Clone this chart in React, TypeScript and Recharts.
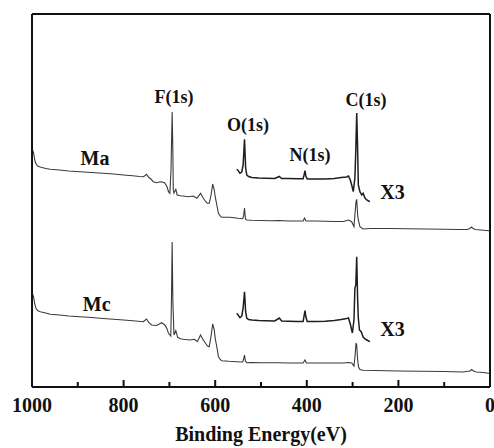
import React from 'react'
import {
  LineChart,
  Line,
  XAxis,
  YAxis,
  ReferenceDot,
} from 'recharts'

// [binding energy (eV), intensity (a.u.)]
const maSurvey: [number, number][] = [
  [1000, 239], [998, 236], [996.5, 234], [994, 227], [992, 224], [988, 221],
  [982, 220], [970, 218.5], [960, 217.7], [940, 217], [920, 216], [895, 215.3],
  [870, 214.5], [845, 213.7], [822, 213], [800, 212], [780, 211.2], [765, 210.5],
  [757, 210.3], [753, 211.5], [750, 212.7], [745, 209.5], [742, 208.7], [735, 205.3],
  [728, 204.3], [722, 205], [717, 205.3], [710, 204], [705, 200], [702, 195.3],
  [699, 193.7], [696.5, 217], [694, 275], [692.5, 237], [691.5, 197], [690, 194],
  [686, 197.7], [683, 192], [676, 191.3], [670, 191], [659, 190.3], [648, 191],
  [640, 188.7], [632, 193.7], [626, 188.7], [620, 185], [617, 183.7], [613, 183.7],
  [609, 192], [605.5, 203], [602, 197], [600, 190.3], [596, 181], [593, 173.7],
  [589, 171], [586, 169.7], [568, 169.7], [550, 168.7], [540, 168.3], [538, 171],
  [536, 179], [534, 168], [531, 167], [520, 166.7], [500, 166.5], [480, 166.3],
  [460, 166.5], [440, 166], [420, 166], [408, 166], [405, 169], [402, 166],
  [380, 166], [360, 165.7], [340, 165.5], [320, 165.5], [309, 167], [302, 165.3],
  [297, 160.3], [294.5, 175], [292.5, 185.3], [291, 187.7], [289, 172], [287.5, 167],
  [284, 160.3], [277, 158], [260, 158.5], [220, 158.5], [180, 158.2], [140, 158],
  [100, 157.7], [70, 157.5], [50, 157.5], [44, 158.5], [40, 160], [37, 158.5],
  [32, 157.5], [20, 157], [8, 156.5], [0, 156],
]

const maSurveyX3: [number, number][] = [
  [553, 217.7], [550, 216.5], [546, 213.7], [542, 215], [539, 222], [536, 247.7],
  [533.5, 219], [531, 212], [527, 210.5], [520, 209.5], [505, 209], [490, 208.7],
  [470, 208.5], [460, 210.5], [455, 208.5], [440, 208.5], [420, 208.2], [408, 208.2],
  [406, 212], [404, 216.3], [402, 211], [399, 208], [380, 208], [360, 208],
  [340, 208.5], [325, 209.5], [313, 210], [309, 211], [305, 207], [302, 202],
  [298.5, 195.3], [295, 209], [293, 237], [291, 274], [289, 237], [287.5, 202],
  [284, 195.3], [280, 192], [277, 193.7], [273, 189], [269, 187], [265, 186],
  [262, 185.3],
]

const mcSurvey: [number, number][] = [
  [1000, 95], [998, 92], [996.5, 90], [994, 83], [991.3, 78.7], [988, 76.5],
  [982, 75.3], [970, 74], [960, 72.7], [940, 72], [920, 71], [895, 70.3],
  [870, 69.5], [845, 68.5], [822, 67.7], [800, 67], [780, 66.3], [757, 65.3],
  [750, 68], [745, 64.5], [739, 62], [728, 61.5], [722, 63], [717, 64.3],
  [710, 62], [705, 58], [702, 53.7], [697, 51], [695.5, 87], [694, 145],
  [692.5, 87], [690, 52], [686, 56.3], [682, 49.7], [676, 48.3], [670, 47.7],
  [655, 47], [645, 47.7], [639, 45.3], [632, 52], [626, 47], [620, 43],
  [617, 41], [613, 40.3], [609, 51], [605.5, 63], [602, 57], [600, 48.7],
  [596, 39], [593, 30.3], [589, 27.5], [586, 26.3], [570, 25.7], [553, 25.3],
  [540, 25], [538, 28], [536, 32], [534, 26], [531, 24.3], [520, 24.5],
  [500, 24.3], [480, 24.2], [460, 24.3], [440, 24], [420, 24], [408, 24],
  [404, 27], [401, 24], [380, 24], [360, 24], [340, 24], [320, 24],
  [309, 24.5], [302, 24], [297, 21], [294.5, 32], [292.5, 44], [291, 42],
  [289, 27], [287, 20], [284, 17.5], [277, 16.7], [250, 16.5], [200, 16],
  [150, 15.8], [100, 15.5], [60, 15], [44, 16], [40, 17.5], [36, 16],
  [30, 15], [15, 14.5], [0, 13.5],
]

const mcSurveyX3: [number, number][] = [
  [553, 73.7], [550, 72], [546, 69.3], [542, 71], [539, 79], [536, 95.3],
  [533.5, 75], [531, 68.7], [527, 67.5], [520, 67], [505, 66.5], [490, 66.2],
  [470, 66], [460, 69], [455, 66], [440, 65.8], [420, 65.5], [408, 65.5],
  [406, 71], [404, 76.5], [402, 70], [399, 65.5], [380, 65.5], [360, 65.8],
  [340, 66.5], [325, 67.5], [313, 68.5], [309, 69], [305, 63], [302, 57],
  [300.5, 54], [297, 67], [295, 99], [293, 102], [291, 130.3], [289, 87],
  [287.5, 69], [285, 57], [281, 55], [277, 50], [273, 48], [269, 47],
  [265, 46], [262, 45.3],
]

const energyTicks = [0, 100, 200, 300, 400, 500, 600, 700, 800, 900, 1000]

// annotation text and its anchor [eV, intensity, font size]
const annotations: [string, number, number, number][] = [
  ['F(1s)', 690, 290, 18],
  ['O(1s)', 528.4, 262, 18],
  ['N(1s)', 393, 232, 18],
  ['C(1s)', 270.7, 287.5, 18],
  ['Ma', 862.4, 228.5, 20],
  ['Mc', 858.7, 83, 20],
  ['X3', 213, 194.5, 20],
  ['X3', 213, 57.5, 20],
]

const rows = (pts: [number, number][]) => pts.map(([e, v]) => ({ e, v }))

const FONT = '"Liberation Serif", "Times New Roman", serif'
const INK = '#111'

function EnergyTick({ x, y, payload }: any) {
  const v = payload.value as number
  const major = v % 200 === 0
  return (
    <g>
      <line x1={x} x2={x} y1={y} y2={y - (major ? 7 : 5)} stroke={INK} strokeWidth={2} />
      {major && (
        <text x={x} y={y + 25} textAnchor="middle" fontFamily={FONT} fontWeight="bold" fontSize={20} fill={INK}>
          {v}
        </text>
      )}
    </g>
  )
}

export default function App() {
  const axisLine = { stroke: INK, strokeWidth: 2 }
  return (
    <div style={{ position: 'absolute', left: 0, top: 0, background: '#fff' }}>
      <LineChart
        width={494}
        height={448}
        margin={{ top: 13, right: 3, bottom: 31, left: 31 }}
      >
        <XAxis
          dataKey="e"
          type="number"
          domain={[0, 1000]}
          reversed
          ticks={energyTicks}
          interval={0}
          tickSize={0}
          tickMargin={0}
          tickLine={false}
          tick={<EnergyTick />}
          axisLine={axisLine}
          height={30}
          label={{
            value: 'Binding Energy(eV)',
            position: 'bottom',
            offset: 10,
            fill: INK,
            fontSize: 20,
            fontWeight: 'bold',
            fontFamily: FONT,
          }}
        />
        <XAxis
          xAxisId="top"
          orientation="top"
          dataKey="e"
          type="number"
          domain={[0, 1000]}
          reversed
          ticks={energyTicks}
          tick={false}
          tickLine={false}
          axisLine={axisLine}
          height={1}
        />
        <YAxis
          type="number"
          domain={[0, 373]}
          ticks={[0, 373]}
          tick={false}
          tickLine={false}
          axisLine={axisLine}
          width={1}
        />
        <YAxis
          yAxisId="right"
          orientation="right"
          type="number"
          domain={[0, 373]}
          ticks={[0, 373]}
          tick={false}
          tickLine={false}
          axisLine={axisLine}
          width={1}
        />
        <Line data={rows(maSurvey)} dataKey="v" type="linear" stroke="#3a3a3a" strokeWidth={1.1} dot={false} isAnimationActive={false} />
        <Line data={rows(maSurveyX3)} dataKey="v" type="linear" stroke="#1e1e1e" strokeWidth={1.5} dot={false} isAnimationActive={false} />
        <Line data={rows(mcSurvey)} dataKey="v" type="linear" stroke="#3a3a3a" strokeWidth={1.1} dot={false} isAnimationActive={false} />
        <Line data={rows(mcSurveyX3)} dataKey="v" type="linear" stroke="#1e1e1e" strokeWidth={1.5} dot={false} isAnimationActive={false} />
        {annotations.map(([text, e, v, size], i) => (
          <ReferenceDot
            key={i}
            x={e}
            y={v}
            r={0}
            fill="none"
            stroke="none"
            label={{
              content: (p: any) => {
                const vb = p.viewBox || {}
                return (
                  <text
                    x={vb.x + (vb.width || 0) / 2}
                    y={vb.y + (vb.height || 0) / 2}
                    dy="0.34em"
                    textAnchor="middle"
                    fontFamily={FONT}
                    fontWeight="bold"
                    fontSize={size}
                    fill={INK}
                  >
                    {text}
                  </text>
                )
              },
            }}
          />
        ))}
      </LineChart>
    </div>
  )
}
